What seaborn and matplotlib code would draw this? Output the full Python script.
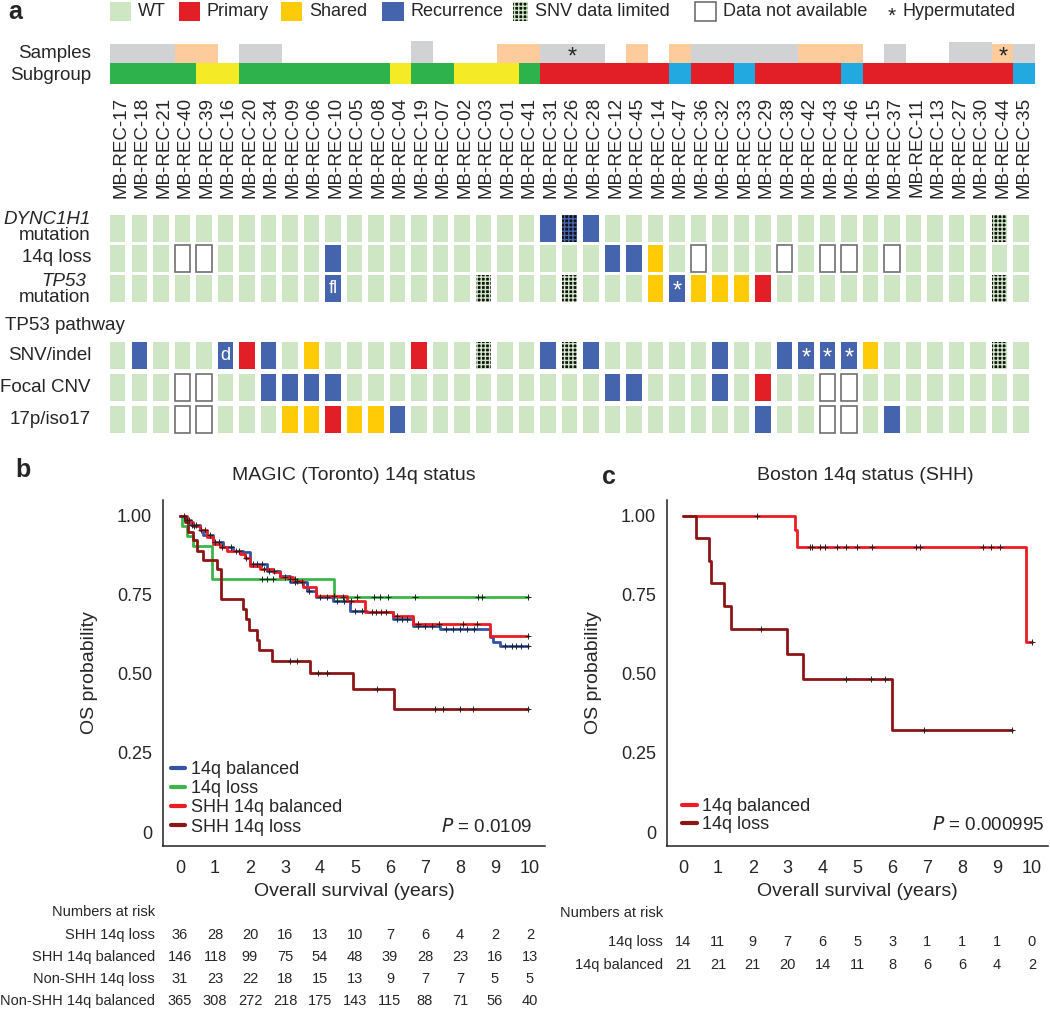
import numpy as np
import pandas as pd
import matplotlib
matplotlib.use("Agg")
import matplotlib.pyplot as plt
import matplotlib.transforms as mtransforms
from matplotlib.patches import Rectangle
from matplotlib.lines import Line2D
import seaborn as sns

# --- panel a data ---
sample_ids = ["17", "18", "21", "40", "39", "16", "20", "34", "09", "06", "10", "05", "08", "04",
              "19", "07", "02", "03", "01", "41", "31", "26", "28", "12", "45", "14", "47", "36",
              "32", "33", "29", "38", "42", "43", "46", "15", "37", "11", "13", "27", "30", "44", "35"]
# G = SHH-like green, Y = yellow, R = red, B = cyan
subgroup = "GGGGYYGGGGGGGYGGYYYG" + "RRRRRRBRRBRRRRBRRRRRRRB"
# g = grey, p = peach, - = none
samples = "gggpp-gg------g---pp" + "ggg-p-pgggggppp-g--ggpg"
sample_height = [19] * 14 + [22] + [19] * 24 + [21, 21] + [19, 19]
hypermutated = [21, 41]

row_names = ["DYNC1H1 mutation", "14q loss", "TP53 mutation", "SNV/indel", "Focal CNV", "17p/iso17"]
# . = WT, P = primary, S = shared, R = recurrence, L = SNV data limited,
# Q = SNV data limited (on recurrence), N = data not available
grid_rows = [
    "...................." + "RQR..................L.",
    "...NN.....R........." + "...RRS.N...N.NN.N......",
    "..........R......L.." + ".L...SRSSSP..........L.",
    ".R...RPR.S....P..L.." + "RLR.....R..RRRRS.....L.",
    "...NN..RRRR........." + "...RR...R.P..NN........",
    "...NN...SSPSSR......" + "..........R..NN.R......",
]
cell_notes = {(2, 10): "fl", (3, 5): "d", (2, 26): "*", (3, 32): "*", (3, 33): "*", (3, 34): "*"}

# --- panel b data (MAGIC) ---
shh_loss_t = [0.14, 0.24, 0.36, 0.48, 0.65, 1.05, 1.17, 1.81, 1.90, 1.98, 2.19, 2.27, 2.63, 3.71, 4.95, 6.12]
shh_loss_s = [0.979, 0.947, 0.923, 0.889, 0.860, 0.831, 0.736, 0.705, 0.673, 0.638, 0.607, 0.575, 0.541,
              0.504, 0.451, 0.388]
shh_loss_cens = [3.14, 3.33, 3.95, 4.19, 5.62, 7.29, 7.52, 8.0, 8.38, 9.95]

loss_t = [0.05, 0.19, 0.36, 0.90, 4.40]
loss_s = [0.968, 0.935, 0.903, 0.800, 0.742]
loss_cens = [2.33, 2.48, 2.67, 3.14, 3.29, 4.67, 5.05, 5.54, 5.71, 5.95, 6.71, 8.52, 8.62, 9.95]

shh_bal_t = [0.19, 0.38, 0.57, 0.76, 0.95, 1.14, 1.33, 1.71, 1.86, 2.0, 2.29, 2.67, 2.86, 3.24, 3.52,
             3.89, 4.76, 5.29, 6.10, 6.67, 8.86]
shh_bal_s = [0.979, 0.968, 0.953, 0.931, 0.910, 0.900, 0.889, 0.879, 0.866, 0.842, 0.831, 0.821, 0.805,
             0.794, 0.773, 0.745, 0.729, 0.694, 0.681, 0.657, 0.620]
shh_bal_cens = [0.4, 0.7, 1.2, 1.9, 2.4, 3.0, 3.35, 4.4, 4.9, 5.5, 6.2, 6.8, 7.4, 8.1, 8.5, 9.95]

bal_t = [0.15, 0.30, 0.57, 0.67, 0.95, 1.24, 1.52, 1.81, 2.0, 2.48, 2.86, 3.14, 3.62, 3.9, 4.38, 4.86,
         5.33, 6.1, 6.67, 7.43, 8.86, 8.95, 9.14]
bal_s = [0.985, 0.970, 0.953, 0.937, 0.916, 0.900, 0.889, 0.884, 0.847, 0.826, 0.810, 0.789, 0.763,
         0.742, 0.729, 0.699, 0.694, 0.673, 0.652, 0.641, 0.615, 0.599, 0.589]
bal_cens = [0.1, 0.2, 0.25, 0.35, 0.45, 0.6, 0.85, 1.0, 1.1, 1.45, 1.6, 1.7, 2.1, 2.2, 2.35, 2.55, 2.7,
            3.3, 3.5, 3.7, 4.0, 4.2, 4.5, 4.7, 5.0, 5.2, 5.6, 5.75, 5.9, 6.2, 6.35, 6.5, 6.8, 7.0, 7.2,
            7.6, 7.8, 8.0, 8.2, 8.4, 9.3, 9.5, 9.6, 9.75, 9.95]

b_risk_rows = ["SHH 14q loss", "SHH 14q balanced", "Non-SHH 14q loss", "Non-SHH 14q balanced"]
b_risk = [[36, 28, 20, 16, 13, 10, 7, 6, 4, 2, 2],
          [146, 118, 99, 75, 54, 48, 39, 28, 23, 16, 13],
          [31, 23, 22, 18, 15, 13, 9, 7, 7, 5, 5],
          [365, 308, 272, 218, 175, 143, 115, 88, 71, 56, 40]]

# --- panel c data (Boston) ---
c_bal_t = [3.21, 3.28, 9.83]
c_bal_s = [0.953, 0.900, 0.600]
c_bal_cens = [2.11, 3.64, 3.69, 3.93, 4.07, 4.40, 4.67, 5.0, 5.43, 6.68, 6.79, 8.59, 8.84, 9.08, 9.99]
c_loss_t = [0.36, 0.75, 0.79, 1.17, 1.39, 2.99, 3.43, 6.0]
c_loss_s = [0.928, 0.857, 0.786, 0.714, 0.643, 0.562, 0.482, 0.321]
c_loss_cens = [2.24, 4.66, 5.38, 5.79, 6.9, 9.42]

c_risk_rows = ["14q loss", "14q balanced"]
c_risk = [[14, 11, 9, 7, 6, 5, 3, 1, 1, 1, 0],
          [21, 21, 21, 20, 14, 11, 8, 6, 6, 4, 2]]

# --- colours ---
WT = "#cfe6c5"
mark_col = {"P": "#e21f26", "S": "#fecb06", "R": "#4564ae"}
sub_col = {"G": "#2eb24b", "Y": "#f4ea25", "R": "#e21f26", "B": "#22a9e0"}
samp_col = {"g": "#d1d2d4", "p": "#fdcb9c"}
C_BAL, C_LOSS, C_SHH_BAL, C_SHH_LOSS = "#3353a4", "#3cb54a", "#ed1c24", "#8c1515"

sns.set_style("white")
plt.rcParams["font.family"] = ["Liberation Sans", "DejaVu Sans"]
plt.rcParams["hatch.linewidth"] = 1.0

W, H = 1050, 1009
fig = plt.figure(figsize=(10.5, 10.09), dpi=100)


def frac(x0, y0, x1, y1):
    return [x0 / W, 1 - y1 / H, (x1 - x0) / W, (y1 - y0) / H]


# overlay in pixel units for free text
ov = fig.add_axes([0, 0, 1, 1])
ov.set_xlim(0, W)
ov.set_ylim(H, 0)
ov.axis("off")


def cell(ax, x, y, w, h, code):
    if code == "N":
        ax.add_patch(Rectangle((x, y), w, h, facecolor="white", edgecolor="#707070", lw=1.2))
    elif code in ("L", "Q"):
        base = mark_col["R"] if code == "Q" else WT
        ax.add_patch(Rectangle((x, y), w, h, facecolor="#111111", edgecolor=base, lw=0, hatch="++++"))
    else:
        ax.add_patch(Rectangle((x, y), w, h, facecolor=mark_col.get(code, WT), lw=0))


# ---------- panel a ----------
ax_a = fig.add_axes(frac(110, 0, 1035, 445))
ax_a.set_xlim(-0.5, len(sample_ids) - 0.5)
ax_a.set_ylim(445, 0)
ax_a.axis("off")

cols = np.arange(len(sample_ids))
s_colors = [samp_col.get(c, "none") for c in samples]
ax_a.bar(cols, sample_height, bottom=63 - np.array(sample_height), width=1.0, color=s_colors, lw=0)
ax_a.bar(cols, 21, bottom=63, width=1.0, color=[sub_col[c] for c in subgroup], lw=0)
for k in hypermutated:
    ax_a.text(k, 58, "*", ha="center", va="center", fontsize=17)
for k, sid in enumerate(sample_ids):
    ax_a.text(k, 97, "MB-REC-" + sid, rotation=90, ha="center", va="top", fontsize=13.5)

row_tops = [215, 245, 275, 342, 374, 406]
cw, ch, off = 0.72, 27, -0.14
for r, row in enumerate(grid_rows):
    for k, code in enumerate(row):
        cell(ax_a, k - cw / 2 + off, row_tops[r], cw, ch, code)
for (r, k), note in cell_notes.items():
    ax_a.text(k + off, row_tops[r] + ch / 2 + (3 if note == "*" else 0), note, color="white",
              ha="center", va="center", fontsize=13 if note != "*" else 17)

# row labels
ov.text(91, 54, "Samples", ha="right", va="center", fontsize=13.5)
ov.text(91, 75, "Subgroup", ha="right", va="center", fontsize=13.5)
ov.text(91, 220, "DYNC1H1", ha="right", va="center", fontsize=13.5, style="italic")
ov.text(91, 236, "mutation", ha="right", va="center", fontsize=13.5)
ov.text(91, 258, "14q loss", ha="right", va="center", fontsize=13.5)
ov.text(86, 281, "TP53", ha="right", va="center", fontsize=13.5, style="italic")
ov.text(91, 297, "mutation", ha="right", va="center", fontsize=13.5)
ov.text(5, 325, "TP53 pathway", ha="left", va="center", fontsize=13.5)
for r, name in zip(range(3, 6), row_names[3:]):
    ov.text(91, row_tops[r] + ch / 2, name, ha="right", va="center", fontsize=13.5)

# legend on top
legend_items = [(110, 21, "WT", "."), (179, 21, "Primary", "P"), (281, 21, "Shared", "S"),
                (382, 22, "Recurrence", "R"), (513, 15, "SNV data limited", "L"),
                (695, 21, "Data not available", "N")]
for x0, w, label, code in legend_items:
    cell(ov, x0, 2, w, 19, code)
    ov.text(x0 + w + 7, 12, label, va="center", fontsize=13)
ov.text(892, 16, "*", ha="center", va="center", fontsize=15)
ov.text(903, 12, "Hypermutated", va="center", fontsize=13)
ov.text(8, 12, "a", fontsize=18, fontweight="bold", va="center")


# ---------- KM panels ----------
def step_df(times, surv, t_end):
    x = [0.0] + list(times) + [t_end]
    y = [1.0] + list(surv) + [surv[-1]]
    return pd.DataFrame({"t": x, "s": y})


def draw_curve(ax, times, surv, cens, color):
    df = step_df(times, surv, max(cens))
    sns.lineplot(data=df, x="t", y="s", ax=ax, color=color, lw=2.0, drawstyle="steps-post",
                 estimator=None, sort=False)
    idx = np.searchsorted(df["t"].values, cens, side="right") - 1
    ax.plot(cens, df["s"].values[idx], "+", color="#222222", ms=5, mew=0.7, zorder=5)


def style_km(ax, xlim):
    ax.set_xlim(*xlim)
    ax.set_ylim(-0.044, 1.049)
    sns.despine(ax=ax)
    for sp in ["left", "bottom"]:
        ax.spines[sp].set_color("#222222")
        ax.spines[sp].set_linewidth(1.1)
    ax.set_xticks(range(0, 11))
    ax.set_yticks([0, 0.25, 0.5, 0.75, 1.0], ["0", "0.25", "0.50", "0.75", "1.00"])
    ax.tick_params(direction="out", length=4, width=1, color="#222222", labelsize=13, pad=4)
    ax.tick_params(axis="x", pad=6)
    ax.set_xlabel("Overall survival (years)", fontsize=14)
    ax.set_ylabel("OS probability", fontsize=14)
    ax.xaxis.set_label_coords(0.5, -0.108)
    ax.yaxis.set_label_coords(-0.17, 0.5)


axb = fig.add_axes(frac(163, 500, 545, 846))
draw_curve(axb, bal_t, bal_s, bal_cens, C_BAL)
draw_curve(axb, loss_t, loss_s, loss_cens, C_LOSS)
draw_curve(axb, shh_bal_t, shh_bal_s, shh_bal_cens, C_SHH_BAL)
draw_curve(axb, shh_loss_t, shh_loss_s, shh_loss_cens, C_SHH_LOSS)
style_km(axb, (-0.486, 10.43))
axb.text(0.5, 1.072, "MAGIC (Toronto) 14q status", transform=axb.transAxes, ha="center",
         va="center", fontsize=14)
handles_b = [Line2D([], [], color=c, lw=3) for c in [C_BAL, C_LOSS, C_SHH_BAL, C_SHH_LOSS]]
axb.legend(handles_b, ["14q balanced", "14q loss", "SHH 14q balanced", "SHH 14q loss"],
           loc="lower left", bbox_to_anchor=(0.02, 0.03), frameon=False, fontsize=13,
           handlelength=0.8, handletextpad=0.3, labelspacing=0.12, borderaxespad=0, borderpad=0)
axb.text(0.966, 0.055, "$\\it{P}$ = 0.0109", transform=axb.transAxes, ha="right", va="center",
         fontsize=13.5)
ov.text(15, 470, "b", fontsize=18, fontweight="bold", va="center")

axc = fig.add_axes(frac(667, 500, 1048, 846))
draw_curve(axc, c_bal_t, c_bal_s, c_bal_cens, C_SHH_BAL)
draw_curve(axc, c_loss_t, c_loss_s, c_loss_cens, C_SHH_LOSS)
style_km(axc, (-0.458, 10.46))
axc.text(0.52, 1.072, "Boston 14q status (SHH)", transform=axc.transAxes, ha="center",
         va="center", fontsize=14)
handles_c = [Line2D([], [], color=c, lw=3) for c in [C_SHH_BAL, C_SHH_LOSS]]
axc.legend(handles_c, ["14q balanced", "14q loss"], loc="lower left", bbox_to_anchor=(0.04, 0.038),
           frameon=False, fontsize=13, handlelength=0.8, handletextpad=0.3, labelspacing=0.05,
           borderaxespad=0, borderpad=0)
axc.text(0.99, 0.06, "$\\it{P}$ = 0.000995", transform=axc.transAxes, ha="right", va="center",
         fontsize=13.5)
ov.text(602, 477, "c", fontsize=18, fontweight="bold", va="center")

# numbers at risk
tb = mtransforms.blended_transform_factory(axb.transData, ov.transData)
ov.text(155, 912, "Numbers at risk", ha="right", va="center", fontsize=10.5)
for i, (name, vals) in enumerate(zip(b_risk_rows, b_risk)):
    y = 935 + 22 * i
    ov.text(155, y, name, ha="right", va="center", fontsize=10.5)
    for t, v in enumerate(vals):
        ov.text(t, y, str(v), transform=tb, ha="center", va="center", fontsize=10.5)

tc = mtransforms.blended_transform_factory(axc.transData, ov.transData)
ov.text(560, 913, "Numbers at risk", ha="left", va="center", fontsize=10.5)
for i, (name, vals) in enumerate(zip(c_risk_rows, c_risk)):
    y = 942 + 23 * i
    ov.text(663, y, name, ha="right", va="center", fontsize=10.5)
    for t, v in enumerate(vals):
        ov.text(t, y, str(v), transform=tc, ha="center", va="center", fontsize=10.5)

fig.savefig("out.png", dpi=100)
